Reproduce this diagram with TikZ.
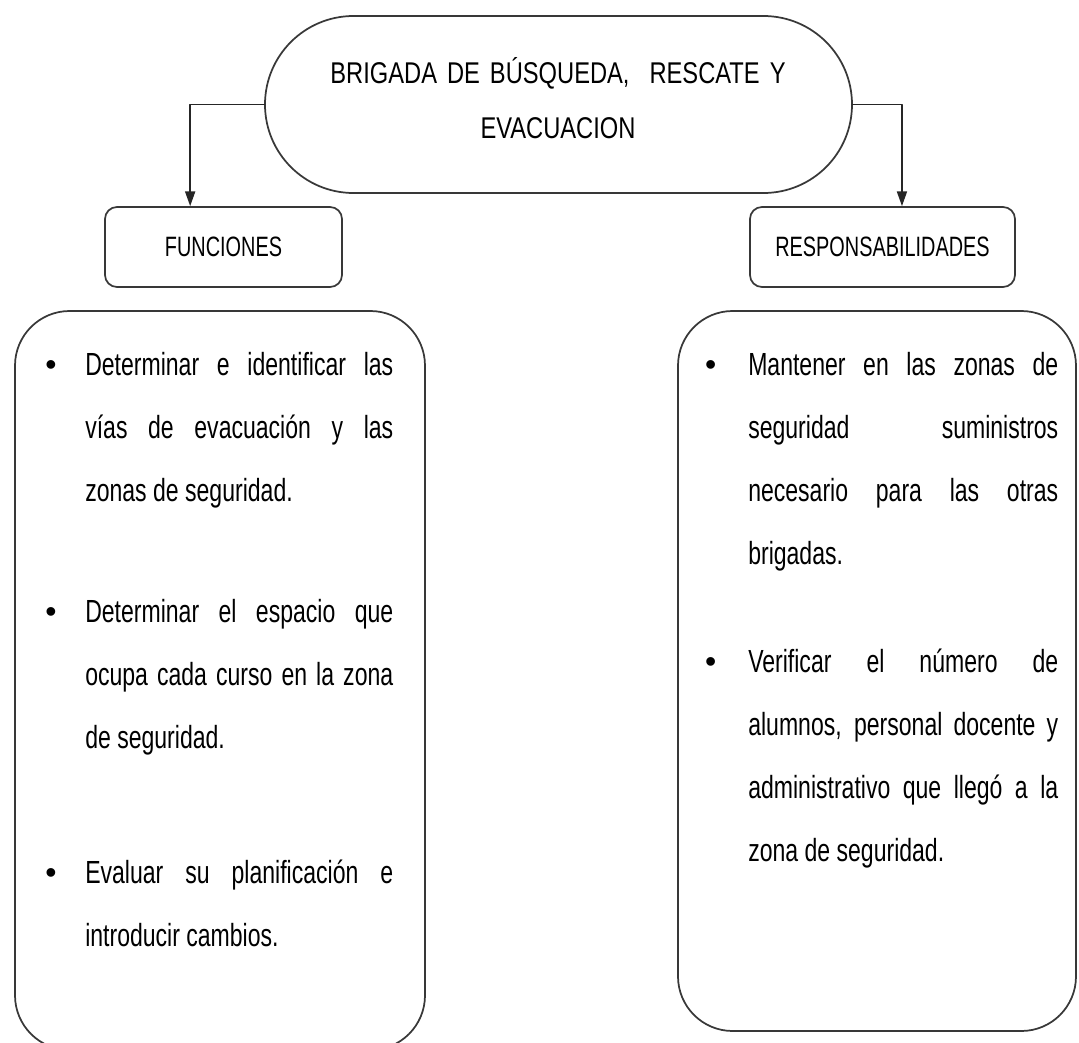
\documentclass[tikz,border=0pt]{standalone}
\usepackage{fontspec}
\setmainfont{Liberation Sans}
\newfontfamily\bodyfont[FakeStretch=0.72]{Liberation Sans}
\newfontfamily\headfont[FakeStretch=0.79]{Liberation Sans}
\newfontfamily\tagfont[FakeStretch=0.71]{Liberation Sans}
\newfontfamily\dotfont{Liberation Sans}
\usetikzlibrary{arrows.meta,shapes.misc}

% bullet hung to the left of the first line
\newcommand{\bulletat}[1]{\llap{{\dotfont\textbullet}\hspace{#1}}}

\begin{document}
\begin{tikzpicture}[x=0.75pt, y=-0.75pt, line cap=round, line join=round,
	frame/.style={draw=black!78, line width=1.3pt},
	stadium/.style={frame, rounded rectangle, minimum width=440.25pt, minimum height=132.75pt, inner sep=0pt},
	headtext/.style={anchor=base, inner sep=0pt, text width=352pt, align=center, font=\headfont\fontsize{22.5}{41.25}\selectfont},
	tagbox/.style={frame, rounded corners=9pt, minimum height=60pt, inner sep=0pt, font=\tagfont\fontsize{21}{25}\selectfont},
	listbox/.style={frame, rounded corners=41pt},
	itemtext/.style={anchor=base west, inner sep=0pt, align=justify, font=\bodyfont\fontsize{24}{47.25}\selectfont},
	conn/.style={draw=black!85, line width=1.2pt, -{Triangle[length=11pt,width=7.5pt]}}]
	
	\useasboundingbox (0,0) rectangle (1079,1043);
	
	% Top: brigade name
	\node[stadium] (brig) at (558.5,104.5) {};
	\node[headtext] (brigtext) at (558,83) {BRIGADA DE BÚSQUEDA, \ RESCATE Y\\EVACUACION};
	
	% Two headings
	\node[tagbox, minimum width=177.75pt] (func) at (223.5,247) {FUNCIONES};
	\node[tagbox, minimum width=198.75pt] (resp) at (882.5,247) {RESPONSABILIDADES};
	
	% Arrows down to the headings
	\draw[conn] (brig.west) -| ([xshift=-25pt]func.north);
	\draw[conn] (brig.east) -| ([xshift=14.6pt]resp.north);
	
	% Lists
	\draw[listbox] (15,311) rectangle (425,1050);
	\draw[listbox] (678,311) rectangle (1076,1031);
	
	\node[itemtext, text width=231pt] (func1) at (85,375)
	{\bulletat{21.5pt}Determinar e identificar las\linebreak vías de evacuación y las\linebreak zonas de seguridad.};
	\node[itemtext, text width=231pt] (func2) at (85,622)
	{\bulletat{21.5pt}Determinar el espacio que\linebreak ocupa cada curso en la zona\linebreak de seguridad.};
	\node[itemtext, text width=231pt] (func3) at (85,883)
	{\bulletat{21.5pt}Evaluar su planificación e\linebreak introducir cambios.};
	
	\node[itemtext, text width=232.5pt] (resp1) at (748,375)
	{\bulletat{24pt}Mantener en las zonas de\linebreak seguridad suministros\linebreak necesario para las otras\linebreak brigadas.};
	\node[itemtext, text width=232.5pt] (resp2) at (748,672)
	{\bulletat{24pt}Verificar el número de\linebreak alumnos, personal docente y\linebreak administrativo que llegó a la\linebreak zona de seguridad.};
	
\end{tikzpicture}
\end{document}
